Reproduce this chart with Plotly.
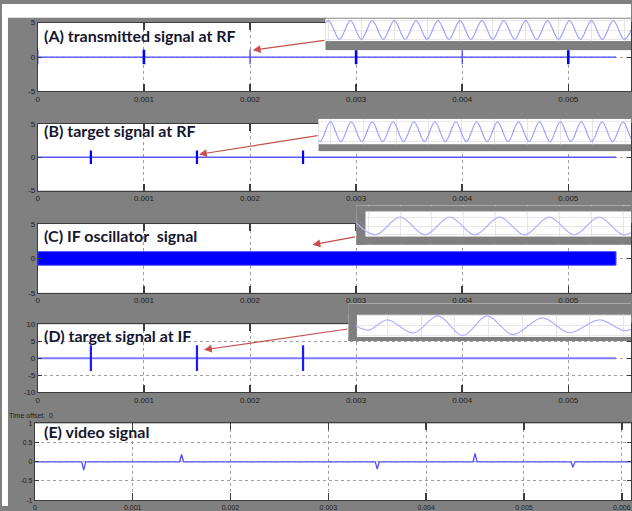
import plotly.graph_objects as go

W, H = 632, 511

# ---------------- data ----------------
sim_end = 0.00545  # end time of the simulated traces (s)
time_ticks = [0, 0.001, 0.002, 0.003, 0.004, 0.005, 0.006]
time_tick_labels = ["0", "0.001", "0.002", "0.003", "0.004", "0.005", "0.006"]
y5_ticks = [-5, 0, 5]
y5_labels = ["-5", "0", "5"]
y10_ticks = [-10, -5, 0, 5, 10]
y10_labels = ["-10", "-5", "0", "5", "10"]
y1_ticks = [-1, -0.5, 0, 0.5, 1]
y1_labels = ["-1", "-0.5", "0", "0.5", "1"]

# (A) transmitted signal at RF: pulse bursts
a_pulse_t_strong = [0.001, 0.003, 0.005]
a_pulse_t_weak = [0.0, 0.002, 0.004]
a_pulse_amp = 1.05

# (B) target signal at RF
b_pulse_t = [0.0005, 0.0015, 0.0025]
b_pulse_amp = 1.0

# (C) IF oscillator (continuous carrier -> solid band)
c_band_amp = 1.0

# (D) target signal at IF
d_pulse_t = [0.0005, 0.0015, 0.0025]
d_pulse_amp = 3.8

# (E) video signal
e_spike_t = [0.0005, 0.0015, 0.0025, 0.0035, 0.0045, 0.0055]
e_spike_v = [-0.22, 0.19, 0.01, -0.19, 0.22, -0.14]
e_end = 0.0062

# zoomed insets (time in carrier cycles, normalised amplitude)
inset_a_t = [-0.5, 0.0, 0.5, 1.0, 1.5, 2.0, 2.5, 3.0, 3.5, 4.0, 4.5, 5.0, 5.5, 6.0, 6.5,
             7.0, 7.5, 8.0, 8.5, 9.0, 9.5, 10.0, 10.5, 11.0, 11.5, 12.0, 12.5, 13.0, 13.5, 14.0]
inset_a_v = [-1, 1, -1, 1, -1, 1, -1, 1, -1, 1, -1, 1, -1, 1, -1,
             1, -1, 1, -1, 1, -1, 1, -1, 1, -1, 1, -1, 1, -1, 1]
inset_b_t = [-1.0, -0.5, 0.0, 0.5, 1.0, 1.5, 2.0, 2.5, 3.0, 3.5, 4.0, 4.5, 5.0, 5.5, 6.0, 6.5,
             7.0, 7.5, 8.0, 8.5, 9.0, 9.5, 10.0, 10.5, 11.0, 11.5, 12.0, 12.5, 13.0, 13.5,
             14.0, 14.5, 15.0]
inset_b_v = [1, -1, 1, -1, 1, -1, 1, -1, 1, -1, 1, -1, 1, -1, 1, -1,
             1, -1, 1, -1, 1, -1, 1, -1, 1, -1, 1, -1, 1, -1, 1, -1, 1]
inset_c_t = [-1.0, -0.5, 0.0, 0.5, 1.0, 1.5, 2.0, 2.5, 3.0, 3.5, 4.0, 4.5, 5.0]
inset_c_v = [1, -1, 1, -1, 1, -1, 1, -1, 1, -1, 1, -1, 1]
inset_d_t = [-0.6, -0.35, 0.0, 0.49, 0.96, 1.43, 1.89, 2.38, 2.94, 3.45, 4.02, 4.5, 4.75]
inset_d_v = [0.0, -0.45, 0.6, -0.75, 1.0, -1.0, 1.0, -0.9, 0.8, -0.7, 0.6, -0.5, 0.0]

# ---------------- helpers (pixel layout -> paper) ----------------
def dx(a, b):
    return [a / W, b / W]

def dy(top, bottom):
    return [1 - bottom / H, 1 - top / H]

def pulses(times, amp):
    xs, ys = [], []
    for t in times:
        xs += [t, t, None]
        ys += [-amp, amp, None]
    return xs, ys

fig = go.Figure()
BLUE = "#0000ff"

# (A)
fig.add_trace(go.Scatter(x=[0, sim_end], y=[0, 0], mode="lines",
                         line=dict(color="#4646ff", width=1.3), xaxis="x", yaxis="y"))
px_, py_ = pulses(a_pulse_t_weak, a_pulse_amp)
fig.add_trace(go.Scatter(x=px_, y=py_, mode="lines", line=dict(color="#4a4aff", width=1.3),
                         xaxis="x", yaxis="y"))
px_, py_ = pulses(a_pulse_t_strong, a_pulse_amp)
fig.add_trace(go.Scatter(x=px_, y=py_, mode="lines", line=dict(color=BLUE, width=2.6),
                         xaxis="x", yaxis="y"))
# (B)
fig.add_trace(go.Scatter(x=[0, sim_end], y=[0, 0], mode="lines",
                         line=dict(color="#5a5aff", width=1.4), xaxis="x2", yaxis="y2"))
px_, py_ = pulses(b_pulse_t, b_pulse_amp)
fig.add_trace(go.Scatter(x=px_, y=py_, mode="lines", line=dict(color=BLUE, width=2.2),
                         xaxis="x2", yaxis="y2"))
# (C)
fig.add_trace(go.Scatter(x=[0, sim_end, sim_end, 0, 0],
                         y=[c_band_amp, c_band_amp, -c_band_amp, -c_band_amp, c_band_amp],
                         mode="lines", fill="toself", fillcolor=BLUE,
                         line=dict(color="#5a5aff", width=1), xaxis="x3", yaxis="y3"))
# (D)
fig.add_trace(go.Scatter(x=[0, sim_end], y=[0, 0], mode="lines",
                         line=dict(color="#7d7dff", width=2), xaxis="x4", yaxis="y4"))
px_, py_ = pulses(d_pulse_t, d_pulse_amp)
fig.add_trace(go.Scatter(x=px_, y=py_, mode="lines", line=dict(color="#1a1aff", width=2.2),
                         xaxis="x4", yaxis="y4"))
# (E)
et, ev = [0.0], [0.0]
for t, v in zip(e_spike_t, e_spike_v):
    et += [t - 0.00002, t, t + 0.00002]
    ev += [0.0, v, 0.0]
et.append(e_end)
ev.append(0.0)
fig.add_trace(go.Scatter(x=et, y=ev, mode="lines", line=dict(color="#5050ff", width=1.3),
                         xaxis="x5", yaxis="y5"))

# insets
inset_specs = [
    ("6", inset_a_t, inset_a_v, "#a0a0ff"),
    ("7", inset_b_t, inset_b_v, "#a0a0ff"),
    ("8", inset_c_t, inset_c_v, "#b4b4ff"),
    ("9", inset_d_t, inset_d_v, "#b0b0ff"),
]
for n, t, v, c in inset_specs:
    fig.add_trace(go.Scatter(x=t, y=v, mode="lines", line=dict(color=c, width=1.2, shape="spline"),
                             xaxis="x" + n, yaxis="y" + n))

fig.update_traces(hoverinfo="skip", showlegend=False)

# ---------------- axes ----------------
tickfont = dict(family="Liberation Sans, Arial, sans-serif", size=8, color="#1e1e1e")
AX = "#3c3c3c"

def main_x(dom, rng, anchor):
    return dict(domain=dom, range=rng, anchor=anchor, tickvals=time_ticks, ticktext=time_tick_labels,
                showgrid=True, gridcolor="#a0a0a0", griddash="dot", gridwidth=1,
                ticks="inside", ticklen=7, tickwidth=1.5, tickcolor=AX,
                showline=True, linecolor=AX, linewidth=1, mirror="ticks",
                zeroline=False, tickfont=tickfont, fixedrange=True)

def main_y(dom, rng, anchor, tv, tt):
    return dict(domain=dom, range=rng, anchor=anchor, tickvals=tv, ticktext=tt,
                showgrid=True, gridcolor="#a0a0a0", griddash="dot", gridwidth=1,
                ticks="inside", ticklen=4, tickwidth=1, tickcolor=AX,
                showline=True, linecolor=AX, linewidth=1, mirror="ticks",
                zeroline=False, tickfont=tickfont, fixedrange=True)

xr_main = [0, 0.005591]
xr_e = [0, 0.006094]
layout_axes = dict(
    xaxis=main_x(dx(36, W), xr_main, "y"),
    yaxis=main_y(dy(19, 89), [-5, 5], "x", y5_ticks, y5_labels),
    xaxis2=main_x(dx(36, W), xr_main, "y2"),
    yaxis2=main_y(dy(122, 190), [-5, 5], "x2", y5_ticks, y5_labels),
    xaxis3=main_x(dx(36, W), xr_main, "y3"),
    yaxis3=main_y(dy(224, 294), [-5, 5], "x3", y5_ticks, y5_labels),
    xaxis4=main_x(dx(36, W), xr_main, "y4"),
    yaxis4=main_y(dy(326, 395), [-10, 10], "x4", y10_ticks, y10_labels),
    xaxis5=main_x(dx(33, W), xr_e, "y5"),
    yaxis5=main_y(dy(427, 505), [-1, 1], "x5", y1_ticks, y1_labels),
)
layout_axes["xaxis5"]["tickfont"] = dict(tickfont, size=7)
layout_axes["yaxis5"]["tickfont"] = dict(tickfont, size=7)

# inset geometry: box (px), x range, y range, white area in data units, x grid step
insets = {
    "6": dict(box=(325, W, 15, 47), xr=[-0.14, 13.81], yr=[-2.16, 1.21], white_x=None, white_y=(-1.21, 1.21), dt=1.5),
    "7": dict(box=(318, W, 117, 150), xr=[-0.57, 14.38], yr=[-2.0, 1.3], white_x=None, white_y=(-1.3, 1.3), dt=1.57),
    "8": dict(box=(356, W, 205, 245), xr=[-0.88, 4.64], yr=[-2.11, 2.33], white_x=-0.7, white_y=(-1.22, 1.67), dt=0.64),
    "9": dict(box=(348, W, 305, 343), xr=[-0.74, 4.62], yr=[-1.55, 2.25], white_x=-0.58, white_y=(-1.15, 1.15), dt=0.64),
}
shapes = [
    dict(type="rect", xref="paper", yref="paper", x0=0, x1=1, y0=1 - 14 / H, y1=1,
         fillcolor="white", line=dict(width=0), layer="below"),
    dict(type="rect", xref="paper", yref="paper", x0=0, x1=6 / W, y0=0, y1=1,
         fillcolor="white", line=dict(width=0), layer="below"),
]
GRAY = "#7f7f7f"
for n, s in insets.items():
    x0, x1, t0, b0 = s["box"]
    layout_axes["xaxis" + n] = dict(domain=dx(x0, x1), range=s["xr"], anchor="y" + n,
                                    showgrid=True, gridcolor="#e4e4e4", dtick=s["dt"], tick0=0,
                                    showticklabels=False, ticks="", zeroline=False,
                                    showline=False, fixedrange=True)
    wy = s["white_y"]
    layout_axes["yaxis" + n] = dict(domain=dy(t0, b0), range=s["yr"], anchor="x" + n,
                                    showgrid=True, gridcolor="#e8e8e8", tickvals=[-1, 0, 1],
                                    showticklabels=False, ticks="", zeroline=False,
                                    showline=False, fixedrange=True)
    xa, ya = "x" + n, "y" + n
    wx0 = s["white_x"] if s["white_x"] is not None else s["xr"][0]
    shapes.append(dict(type="rect", xref=xa, yref=ya, x0=s["xr"][0], x1=s["xr"][1],
                       y0=s["yr"][0], y1=s["yr"][1], fillcolor=GRAY, line=dict(width=0), layer="below"))
    shapes.append(dict(type="rect", xref=xa, yref=ya, x0=wx0, x1=s["xr"][1],
                       y0=wy[0], y1=wy[1], fillcolor="white", line=dict(width=0), layer="below"))
    shapes.append(dict(type="rect", xref=xa, yref=ya, x0=s["xr"][0], x1=s["xr"][1],
                       y0=s["yr"][0], y1=wy[0], fillcolor=GRAY, line=dict(width=0), layer="between"))
    shapes.append(dict(type="rect", xref=xa, yref=ya, x0=s["xr"][0], x1=s["xr"][1],
                       y0=wy[1], y1=s["yr"][1], fillcolor=GRAY, line=dict(width=0), layer="between"))
    if s["white_x"] is not None:
        shapes.append(dict(type="rect", xref=xa, yref=ya, x0=s["xr"][0], x1=wx0,
                           y0=s["yr"][0], y1=s["yr"][1], fillcolor=GRAY, line=dict(width=0), layer="between"))

# ---------------- annotations ----------------
label_font = dict(family="Lato, Open Sans, sans-serif", size=16, color="#16162e")
labels = [
    ("(A) transmitted signal at RF", 32),
    ("(B) target signal at RF", 129),
    ("(C) IF oscillator  signal", 236),
    ("(D) target signal at IF", 337),
    ("(E) video signal", 435),
]
annotations = []
for txt, yc in labels:
    annotations.append(dict(text="<b>" + txt.replace("  ", "&nbsp; ") + "</b>", xref="paper", yref="paper",
                            x=40 / W, y=1 - yc / H, xanchor="left", yanchor="middle",
                            showarrow=False, font=label_font))
annotations.append(dict(text="Time offset:&nbsp;&nbsp;0", xref="paper", yref="paper", x=5 / W, y=1 - 419 / H,
                        xanchor="left", yanchor="middle", showarrow=False,
                        font=dict(family="Liberation Sans, Arial, sans-serif", size=7, color="#1e1e1e")))
arrows = [  # head (px), tail (px)
    ((252, 47), (325, 37)),
    ((198, 153), (318, 134)),
    ((312, 245), (356, 237)),
    ((203, 352), (348, 331)),
]
for (hx, hy), (tx, ty) in arrows:
    annotations.append(dict(text="", xref="paper", yref="paper", x=hx / W, y=1 - hy / H,
                            ax=tx - hx, ay=ty - hy, showarrow=True, arrowhead=2, arrowsize=1.3,
                            arrowwidth=1.2, arrowcolor="#c4504e", standoff=0))

fig.update_layout(
    width=W, height=H, margin=dict(l=0, r=0, t=0, b=0),
    paper_bgcolor="#808080", plot_bgcolor="white",
    showlegend=False, shapes=shapes, annotations=annotations,
    **layout_axes,
)

fig.write_html(
    "out.html",
    config={"displayModeBar": False, "staticPlot": True},
    post_script=("document.body.style.margin='0';document.body.style.overflow='hidden';"
                 "document.documentElement.style.overflow='hidden';"),
)
